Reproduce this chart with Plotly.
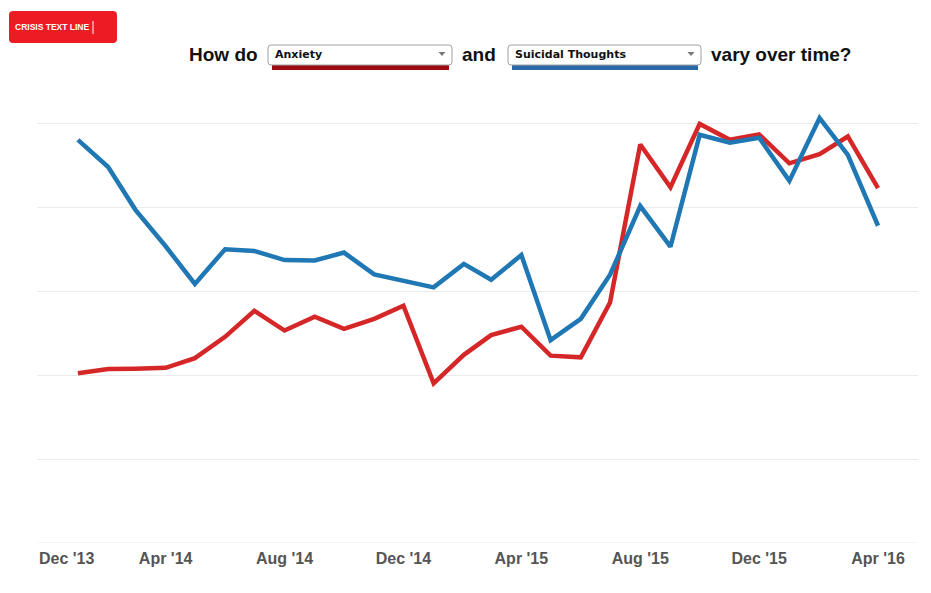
import plotly.graph_objects as go
import pandas as pd

# ---- data ----
months = pd.date_range("2014-01-01", "2016-04-01", freq="MS")
anxiety = [40.5, 41.5, 41.6, 41.8, 44.1, 49.2, 55.4, 50.7, 54.0, 51.1, 53.5, 56.6,
           38.1, 44.9, 49.6, 51.6, 44.7, 44.3, 57.4, 95.1, 84.9, 100.0, 96.2, 97.5,
           90.6, 92.8, 97.0, 84.7]
suicidal = [96.2, 89.7, 79.5, 70.8, 61.8, 70.1, 69.7, 67.5, 67.4, 69.3, 64.1, 62.5,
            61.0, 66.6, 62.8, 68.7, 48.4, 53.5, 64.0, 80.4, 70.7, 97.4, 95.5, 96.7,
            86.4, 101.4, 92.6, 75.7]
tick_dates = ["2014-04-01", "2014-08-01", "2014-12-01", "2015-04-01",
              "2015-08-01", "2015-12-01", "2016-04-01"]
tick_labels = ["Apr '14", "Aug '14", "Dec '14", "Apr '15", "Aug '15", "Dec '15", "Apr '16"]
first_label = "Dec '13"
series_a = "Anxiety"
series_b = "Suicidal Thoughts"

W, H = 931, 593
ML, MR, MT, MB = 37, 13, 82, 50
PW = W - ML - MR
PH = H - MT - MB


def px(x):
    return (x - ML) / PW


def py(y):
    return (H - MB - y) / PH


def rrect(x0, y0, x1, y1, r):
    rx = r / PW
    ry = r / PH
    X0, X1 = px(x0), px(x1)
    Y0, Y1 = py(y0), py(y1)
    return (f"M {X0+rx},{Y0} L {X1-rx},{Y0} Q {X1},{Y0} {X1},{Y0-ry} "
            f"L {X1},{Y1+ry} Q {X1},{Y1} {X1-rx},{Y1} L {X0+rx},{Y1} "
            f"Q {X0},{Y1} {X0},{Y1+ry} L {X0},{Y0-ry} Q {X0},{Y0} {X0+rx},{Y0} Z")


def tri(cx, cy):
    return (f"M {px(cx-3.5)},{py(cy-2)} L {px(cx+3.5)},{py(cy-2)} "
            f"L {px(cx)},{py(cy+2)} Z")


fig = go.Figure()
fig.add_trace(go.Scatter(x=months, y=anxiety, mode="lines", name=series_a,
                         line=dict(color="#d62728", width=4.5)))
fig.add_trace(go.Scatter(x=months, y=suicidal, mode="lines", name=series_b,
                         line=dict(color="#1f77b4", width=4.5)))

shapes = [
    dict(type="line", xref="paper", yref="y", x0=0, x1=1, y0=0, y1=0,
         line=dict(color="#ebebeb", width=1), layer="below"),
    dict(type="path", xref="paper", yref="paper", path=rrect(9, 11, 117, 43, 4),
         fillcolor="#ed1c24", line=dict(width=0)),
    dict(type="rect", xref="paper", yref="paper", x0=px(272), x1=px(449),
         y0=py(70), y1=py(64), fillcolor="#9b0b0f", line=dict(width=0)),
    dict(type="rect", xref="paper", yref="paper", x0=px(512), x1=px(698),
         y0=py(70), y1=py(64), fillcolor="#2a69a6", line=dict(width=0)),
    dict(type="path", xref="paper", yref="paper", path=rrect(268, 45, 452, 65, 3),
         fillcolor="white", line=dict(color="#a0a0a0", width=1)),
    dict(type="path", xref="paper", yref="paper", path=rrect(508, 45, 701, 65, 3),
         fillcolor="white", line=dict(color="#a0a0a0", width=1)),
    dict(type="path", xref="paper", yref="paper", path=tri(442, 54),
         fillcolor="#777", line=dict(width=0)),
    dict(type="path", xref="paper", yref="paper", path=tri(691, 54),
         fillcolor="#777", line=dict(width=0)),
    dict(type="line", xref="paper", yref="paper", x0=px(93), x1=px(93),
         y0=py(21), y1=py(34), line=dict(color="white", width=1)),
]

title_font = dict(family="Arial, Liberation Sans", size=19, color="#111")
dd_font = dict(family="DejaVu Sans", size=11, color="#111")


def ann(text, x, y, font, xanchor="left"):
    return dict(text=text, xref="paper", yref="paper", x=px(x), y=py(y),
                xanchor=xanchor, yanchor="middle", showarrow=False, font=font)


annotations = [
    ann("<b>CRISIS TEXT LINE</b>", 13, 27,
        dict(family="Liberation Sans Narrow, Arial Narrow, Arial", size=8.5, color="white")),
    ann("<b>How do</b>", 260, 55, title_font, "right"),
    ann("<b>" + series_a + "</b>", 273, 55, dd_font),
    ann("<b>and</b>", 460, 55, title_font),
    ann("<b>" + series_b + "</b>", 513, 55, dd_font),
    ann("<b>vary over time?</b>", 709, 55, title_font),
    ann("<b>" + first_label + "</b>", 37, 558,
        dict(family="Arial, Liberation Sans", size=16, color="#555")),
]

fig.update_layout(
    width=W, height=H,
    margin=dict(l=ML, r=MR, t=MT, b=MB),
    paper_bgcolor="white", plot_bgcolor="white",
    showlegend=False,
    shapes=shapes,
    annotations=annotations,
    xaxis=dict(type="date", range=["2013-11-20", "2016-05-12"],
               tickvals=tick_dates, ticktext=["<b>" + t + "</b>" for t in tick_labels],
               tickfont=dict(family="Arial, Liberation Sans", size=16, color="#555"),
               ticklabelstandoff=4,
               showgrid=False, zeroline=False, showline=False, ticks=""),
    yaxis=dict(range=[0, 110], tickvals=[0, 20, 40, 60, 80, 100],
               showticklabels=False, showgrid=True, gridcolor="#ebebeb",
               gridwidth=1, zeroline=False, showline=False, ticks=""),
)

fig.write_html("out.html", config={"displayModeBar": False},
               post_script="document.body.style.margin='0';")
